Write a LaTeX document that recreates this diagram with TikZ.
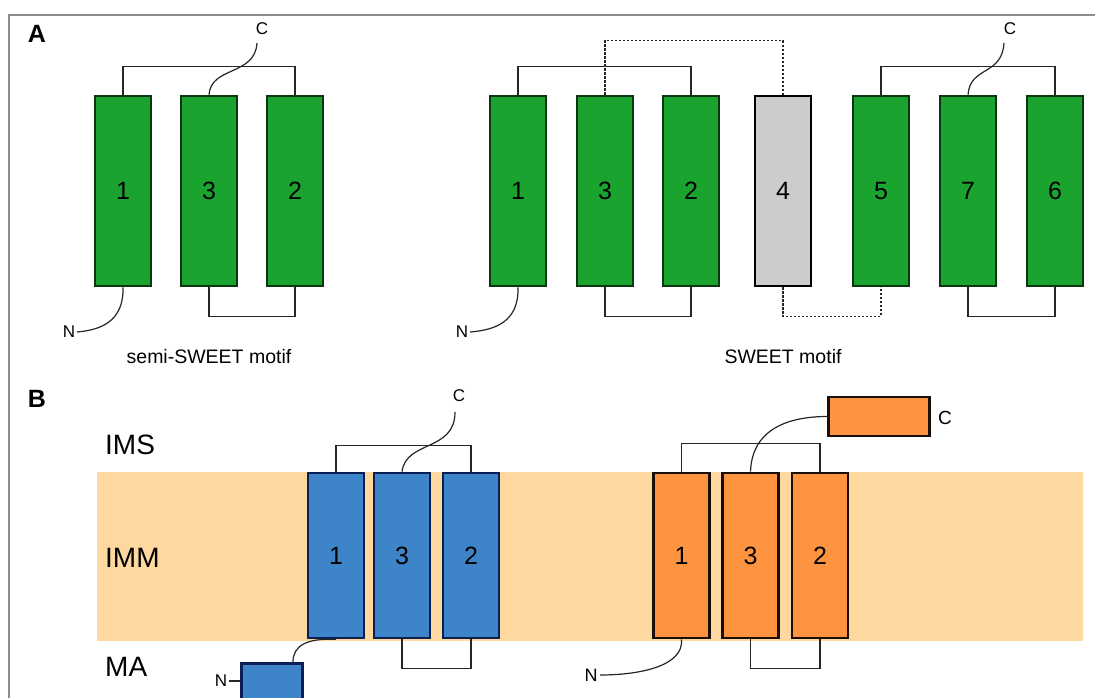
\documentclass[tikz,border=0pt]{standalone}
\usepackage{fontspec}
\setmainfont{Liberation Sans}
\definecolor{tmgreen}{RGB}{26,163,46}
\definecolor{tmgreenline}{RGB}{10,55,18}
\definecolor{tmblue}{RGB}{61,133,200}
\definecolor{tmblueline}{RGB}{10,32,85}
\definecolor{tmorange}{RGB}{255,148,64}
\definecolor{tmorangeline}{RGB}{25,15,8}
\definecolor{tmgray}{RGB}{204,204,204}
\definecolor{band}{RGB}{255,216,160}
\definecolor{frame}{RGB}{140,140,140}
\tikzset{
  tmbox/.style={draw, rectangle, inner sep=0, line width=2.6, minimum width=56, font=\fontsize{25}{25}\selectfont},
  gbox/.style={tmbox, fill=tmgreen, draw=tmgreenline, minimum height=190},
  graybox/.style={tmbox, fill=tmgray, draw=black, minimum height=190},
  bbox/.style={tmbox, fill=tmblue, draw=tmblueline, minimum height=165},
  obox/.style={tmbox, fill=tmorange, draw=tmorangeline, minimum height=165},
  link/.style={draw=black!85, line width=1.2},
  dlink/.style={link, dash pattern=on 2.2pt off 1.8pt},
  small/.style={inner sep=0, font=\fontsize{17}{17}\selectfont},
  region/.style={inner sep=0, anchor=west, font=\fontsize{28}{28}\selectfont},
  caption/.style={inner sep=0, font=\fontsize{19.5}{19.5}\selectfont},
  panel/.style={inner sep=0, font=\fontsize{25}{25}\selectfont\bfseries},
}
\begin{document}
\begin{tikzpicture}[x=1pt,y=-1pt]
\clip (0,0) rectangle (1095,698);
\fill[white] (0,0) rectangle (1095,698);
\draw[frame, line width=1.3] (9,698) -- (9,15) -- (1096,15);

% ---------- Panel A ----------
\node[panel] (lA) at (37,34) {A};

% semi-SWEET
\node[gbox] (a1) at (123,191) {1};
\node[gbox] (a3) at (209,191) {3};
\node[gbox] (a2) at (295,191) {2};
\draw[link] (a1.north) -- ++(0,-28) -| (a2.north);
\draw[link] (a3.south) -- ++(0,29) -| (a2.south);
\node[small] (aC) at (262,29) {C};
\coordinate (aCe) at (257,43);
\draw[link] (a3.north) .. controls (211,66) and (255,76) .. (aCe);
\node[small] (aN) at (69,332) {N};
\coordinate (aNe) at (77,332);
\draw[link] (a1.south) .. controls (124,322) and (100,330) .. (aNe);
\node[caption] (capA) at (209,357) {semi-SWEET motif};

% SWEET
\node[gbox] (w1) at (518,191) {1};
\node[gbox] (w3) at (605,191) {3};
\node[gbox] (w2) at (691,191) {2};
\node[graybox] (w4) at (783,191) {4};
\node[gbox] (w5) at (881,191) {5};
\node[gbox] (w7) at (968,191) {7};
\node[gbox] (w6) at (1055,191) {6};
\draw[dlink] (w3.north) -- ++(0,-54) -| (w4.north);
\draw[link] (w1.north) -- ++(0,-28) -| (w2.north);
\draw[link] (w3.south) -- ++(0,29) -| (w2.south);
\draw[dlink] (w4.south) -- ++(0,29) -| (w5.south);
\draw[link] (w5.north) -- ++(0,-28) -| (w6.north);
\draw[link] (w7.south) -- ++(0,29) -| (w6.south);
\node[small] (wC) at (1010,29) {C};
\coordinate (wCe) at (1004,43);
\draw[link] (w7.north) .. controls (970,66) and (1002,76) .. (wCe);
\node[small] (wN) at (462,332) {N};
\coordinate (wNe) at (470,332);
\draw[link] (w1.south) .. controls (519,322) and (495,330) .. (wNe);
\node[caption] (capW) at (783,357) {SWEET motif};

% ---------- Panel B ----------
\node[panel] (lB) at (37,399) {B};
\fill[band] (97,472) rectangle (1083,641);
\node[region] (ims) at (105,445) {IMS};
\node[region] (imm) at (105,558) {IMM};
\node[region] (ma) at (105,667) {MA};

% blue
\node[bbox] (b1) at (336,555.5) {1};
\node[bbox] (b3) at (402,555.5) {3};
\node[bbox] (b2) at (471,555.5) {2};
\draw[link] (b1.north) -- ++(0,-26) -| (b2.north);
\draw[link] (b3.south) -- ++(0,29) -| (b2.south);
\node[small] (bC) at (459,396) {C};
\coordinate (bCe) at (455,412);
\draw[link] (b3.north) .. controls (406,440) and (455,452) .. (bCe);
\node[draw=tmblueline, fill=tmblue, line width=2.6, rectangle, inner sep=0, minimum width=61, minimum height=50, anchor=north west] (bN) at (240,662) {};
\draw[link] (b1.south) .. controls (306,638) and (293,646) .. (bN.north -| 293,662);
\node[small] (bNl) at (221,681) {N};
\draw[link] (bNl.east) ++(1.5,0) -- (bN.west |- 0,681);

% orange
\node[obox] (o1) at (681.5,555.5) {1};
\node[obox] (o3) at (750.5,555.5) {3};
\node[obox] (o2) at (820,555.5) {2};
\draw[link] (o1.north) -- ++(0,-28) -| (o2.north);
\draw[link] (o3.south) -- ++(0,29) -| (o2.south);
\node[draw=tmorangeline, fill=tmorange, line width=2.6, rectangle, inner sep=0, minimum width=101, minimum height=39] (oC) at (879,416.5) {};
\node[small, font=\fontsize{19}{19}\selectfont] (oCl) at (945,418) {C};
\draw[link] (o3.north) .. controls (752,428) and (790,416.5) .. (oC.west);
\node[small, font=\fontsize{18}{18}\selectfont] (oN) at (591,675) {N};
\coordinate (oNe) at (600,675);
\draw[link] (o1.south) .. controls (684,666) and (640,675) .. (oNe);
\end{tikzpicture}
\end{document}
